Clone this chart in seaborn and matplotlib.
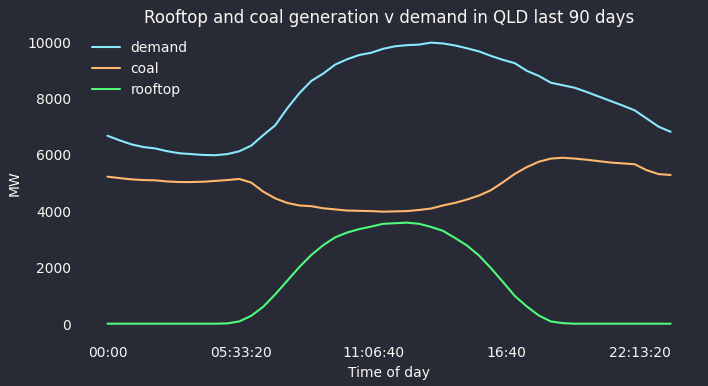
import numpy as np
import pandas as pd
import seaborn as sns
import matplotlib
matplotlib.use("Agg")
import matplotlib.pyplot as plt
from matplotlib.ticker import FuncFormatter

# half-hourly averages, seconds since midnight
seconds = [i * 1800 for i in range(48)]

demand = [6680, 6520, 6375, 6280, 6230, 6130, 6060, 6030, 6000, 5990,
          6030, 6130, 6330, 6700, 7050, 7650, 8180, 8620, 8880, 9200,
          9390, 9540, 9620, 9760, 9850, 9890, 9910, 9980, 9950, 9880,
          9780, 9670, 9510, 9370, 9250, 8980, 8800, 8560, 8470, 8380,
          8230, 8070, 7910, 7750, 7580, 7290, 7000, 6820]

coal = [5230, 5180, 5135, 5110, 5100, 5060, 5040, 5040, 5050, 5080,
        5110, 5150, 5020, 4700, 4460, 4300, 4210, 4185, 4110, 4070,
        4030, 4020, 4010, 3990, 4000, 4010, 4050, 4100, 4210, 4300,
        4420, 4560, 4750, 5030, 5330, 5570, 5760, 5870, 5900, 5870,
        5830, 5780, 5730, 5700, 5670, 5460, 5320, 5290]

rooftop = [20, 20, 20, 20, 20, 20, 20, 20, 20, 20,
           30, 100, 300, 620, 1060, 1540, 2020, 2450, 2800, 3080,
           3250, 3370, 3460, 3560, 3580, 3600, 3560, 3450, 3310, 3060,
           2790, 2440, 1990, 1500, 1000, 630, 310, 100, 40, 20,
           20, 20, 20, 20, 20, 20, 20, 20]

series_names = ["demand", "coal", "rooftop"]
colors = ["#8be9fd", "#ffb86c", "#50fa7b"]

df = pd.DataFrame({"seconds": seconds, "demand": demand, "coal": coal, "rooftop": rooftop})
long_df = df.melt(id_vars="seconds", value_vars=series_names, var_name="series", value_name="MW")

bg = "#282a36"
fg = "#f8f8f2"

sns.set_style("dark", {"axes.facecolor": bg, "figure.facecolor": bg})
plt.rcParams.update({
    "text.color": fg, "axes.labelcolor": fg,
    "xtick.color": fg, "ytick.color": fg,
})

fig, ax = plt.subplots(figsize=(7.08, 3.86), dpi=100)
fig.subplots_adjust(left=0.112, right=0.987, top=0.926, bottom=0.125)

sns.lineplot(data=long_df, x="seconds", y="MW", hue="series",
             palette=dict(zip(series_names, colors)), linewidth=1.5, ax=ax)


def fmt_time(s, pos):
    s = int(round(s))
    h, m, sec = s // 3600, (s % 3600) // 60, s % 60
    if sec:
        return f"{h:02d}:{m:02d}:{sec:02d}"
    return f"{h:02d}:{m:02d}"


ax.set_xticks([0, 20000, 40000, 60000, 80000])
ax.xaxis.set_major_formatter(FuncFormatter(fmt_time))
ax.set_yticks([0, 2000, 4000, 6000, 8000, 10000])
ax.tick_params(length=0, labelsize=10, pad=6)
for sp in ax.spines.values():
    sp.set_visible(False)
ax.grid(False)

ax.set_xlabel("Time of day", fontsize=10)
ax.set_ylabel("MW", fontsize=10)
ax.set_title("Rooftop and coal generation v demand in QLD last 90 days", fontsize=12, color=fg, pad=4)

leg = ax.legend(loc="upper left", frameon=False, fontsize=10)
for t in leg.get_texts():
    t.set_color(fg)

fig.savefig("out.png", dpi=100, facecolor=bg)
